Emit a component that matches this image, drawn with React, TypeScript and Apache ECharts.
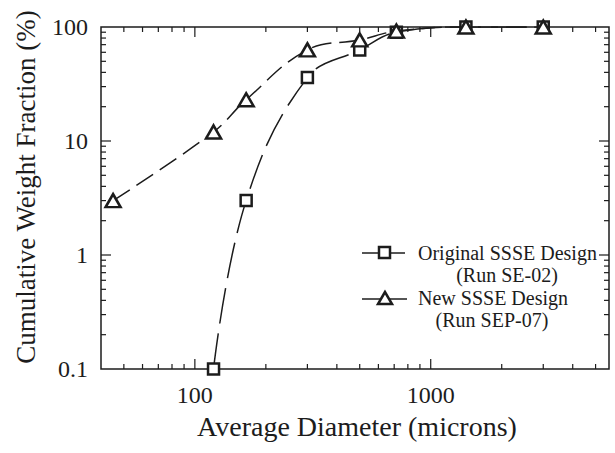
import React, { useEffect, useRef } from "react";
import * as echarts from "echarts";

// Average particle diameter (microns) and cumulative weight fraction (%)
const ORIGINAL_DIAMETER = [120, 165, 300, 500, 715, 1410, 3000];
const ORIGINAL_FRACTION = [0.1, 3, 36, 63, 90, 100, 100];
const NEW_DIAMETER = [45, 120, 165, 300, 500, 715, 1410, 3000];
const NEW_FRACTION = [3, 12, 23, 63, 77, 92, 100, 100];

const ORIGINAL_NAME = "Original SSSE Design";
const ORIGINAL_RUN = "(Run SE-02)";
const NEW_NAME = "New SSSE Design";
const NEW_RUN = "(Run SEP-07)";

const X_TITLE = "Average Diameter (microns)";
const Y_TITLE = "Cumulative Weight Fraction (%)";

const X_MIN = 40;
const X_MAX = 5700;
const Y_MIN = 0.1;
const Y_MAX = 100;

const X_LABELS = [100, 1000];
const Y_LABELS = [0.1, 1, 10, 100];
const X_MAJOR_TICKS = [100, 1000];
const X_MINOR_TICKS = [50, 60, 70, 80, 90, 200, 300, 400, 500, 600, 700, 800, 900, 2000, 3000, 4000, 5000];
const Y_MAJOR_TICKS = [1, 10];
const Y_MINOR_TICKS = [
  0.2, 0.3, 0.4, 0.5, 0.6, 0.7, 0.8, 0.9,
  2, 3, 4, 5, 6, 7, 8, 9,
  20, 30, 40, 50, 60, 70, 80, 90,
];

const INK = "#1c1c1c";
const SERIF = "Liberation Serif";
const MAJOR_LEN = 10;
const MINOR_LEN = 5;

function fmt(v: number): string {
  return String(Number(Number(v).toPrecision(3)));
}

function label(x: number, y: number, text: string, size: number, align: string, extra: any = {}) {
  return {
    type: "text",
    x,
    y,
    ...extra,
    style: {
      text,
      fontSize: size,
      fontFamily: SERIF,
      fill: INK,
      align,
      verticalAlign: "middle",
    },
  };
}

export default function App() {
  const ref = useRef<HTMLDivElement>(null);

  useEffect(() => {
    document.body.style.margin = "0";
    if (!ref.current) return;
    const chart = echarts.init(ref.current, null, { renderer: "svg" });

    const xTickData = [
      ...X_MAJOR_TICKS.map((v) => [v, 1, MAJOR_LEN]),
      ...X_MINOR_TICKS.map((v) => [v, 1, MINOR_LEN]),
    ];
    const yTickData = [
      ...Y_MAJOR_TICKS.map((v) => [100, v, MAJOR_LEN]),
      ...Y_MINOR_TICKS.map((v) => [100, v, MINOR_LEN]),
    ];

    const tickStyle = { stroke: INK, lineWidth: 1.2 };

    const option: any = {
      animation: false,
      backgroundColor: "#ffffff",
      textStyle: { fontFamily: SERIF },
      grid: {
        left: 101,
        right: 6,
        top: 27,
        bottom: 84,
        show: true,
        borderColor: INK,
        borderWidth: 1.5,
        backgroundColor: "transparent",
      },
      xAxis: {
        type: "log",
        logBase: 10,
        min: X_MIN,
        max: X_MAX,
        axisLine: { show: false },
        axisTick: { show: false },
        splitLine: { show: false },
        minorTick: { show: false },
        axisLabel: {
          customValues: X_LABELS,
          formatter: (v: number) => fmt(v),
          fontSize: 24,
          fontFamily: SERIF,
          color: INK,
          margin: 14,
        },
      },
      yAxis: {
        type: "log",
        logBase: 10,
        min: Y_MIN,
        max: Y_MAX,
        axisLine: { show: false },
        axisTick: { show: false },
        splitLine: { show: false },
        minorTick: { show: false },
        axisLabel: {
          customValues: Y_LABELS,
          formatter: (v: number) => fmt(v),
          fontSize: 24,
          fontFamily: SERIF,
          color: INK,
          margin: 13,
        },
      },
      series: [
        {
          // tick marks along bottom and top edges
          type: "custom",
          coordinateSystem: "cartesian2d",
          silent: true,
          z: 1,
          data: xTickData,
          renderItem: (_p: any, api: any) => {
            const v = api.value(0);
            const len = api.value(2);
            const b = api.coord([v, Y_MIN]);
            const t = api.coord([v, Y_MAX]);
            return {
              type: "group",
              children: [
                { type: "line", shape: { x1: b[0], y1: b[1], x2: b[0], y2: b[1] - len }, style: tickStyle },
                { type: "line", shape: { x1: t[0], y1: t[1], x2: t[0], y2: t[1] + len }, style: tickStyle },
              ],
            };
          },
        },
        {
          // tick marks along left and right edges
          type: "custom",
          coordinateSystem: "cartesian2d",
          silent: true,
          z: 1,
          data: yTickData,
          renderItem: (_p: any, api: any) => {
            const v = api.value(1);
            const len = api.value(2);
            const l = api.coord([X_MIN, v]);
            const r = api.coord([X_MAX, v]);
            return {
              type: "group",
              children: [
                { type: "line", shape: { x1: l[0], y1: l[1], x2: l[0] + len, y2: l[1] }, style: tickStyle },
                { type: "line", shape: { x1: r[0], y1: r[1], x2: r[0] - len, y2: r[1] }, style: tickStyle },
              ],
            };
          },
        },
        {
          name: ORIGINAL_NAME,
          type: "line",
          data: ORIGINAL_DIAMETER.map((d, i) => [d, ORIGINAL_FRACTION[i]]),
          smooth: 0.4,
          symbol: "rect",
          symbolSize: 11,
          showAllSymbol: true,
          lineStyle: { color: INK, width: 1.5, type: [36, 10] },
          itemStyle: { color: "#ffffff", borderColor: INK, borderWidth: 2.5 },
          z: 3,
        },
        {
          name: NEW_NAME,
          type: "line",
          data: NEW_DIAMETER.map((d, i) => [d, NEW_FRACTION[i]]),
          smooth: 0.4,
          symbol: "triangle",
          symbolSize: [15, 13],
          showAllSymbol: true,
          lineStyle: { color: INK, width: 1.5, type: [20, 8] },
          itemStyle: { color: "#ffffff", borderColor: INK, borderWidth: 2.5 },
          z: 4,
        },
      ],
      graphic: [
        // legend
        { type: "line", shape: { x1: 362, y1: 253, x2: 405, y2: 253 }, style: { stroke: INK, lineWidth: 1.5 } },
        { type: "rect", shape: { x: 379, y: 247, width: 11, height: 11 }, style: { fill: "#fff", stroke: INK, lineWidth: 2.5 } },
        label(418, 253, ORIGINAL_NAME, 20, "left"),
        label(507, 275, ORIGINAL_RUN, 20, "center"),
        { type: "line", shape: { x1: 362, y1: 299, x2: 407, y2: 299 }, style: { stroke: INK, lineWidth: 1.5 } },
        { type: "polygon", shape: { points: [[385, 292], [378, 304], [392, 304]] }, style: { fill: "#fff", stroke: INK, lineWidth: 2.5 } },
        label(418, 298, NEW_NAME, 20, "left"),
        label(492, 320, NEW_RUN, 20, "center"),
        // axis titles
        label(357, 426, X_TITLE, 28, "center"),
        label(26, 187, Y_TITLE, 27, "center", { rotation: Math.PI / 2 }),
      ],
    };

    chart.setOption(option);
    return () => chart.dispose();
  }, []);

  return <div ref={ref} style={{ width: 615, height: 453 }} />;
}
